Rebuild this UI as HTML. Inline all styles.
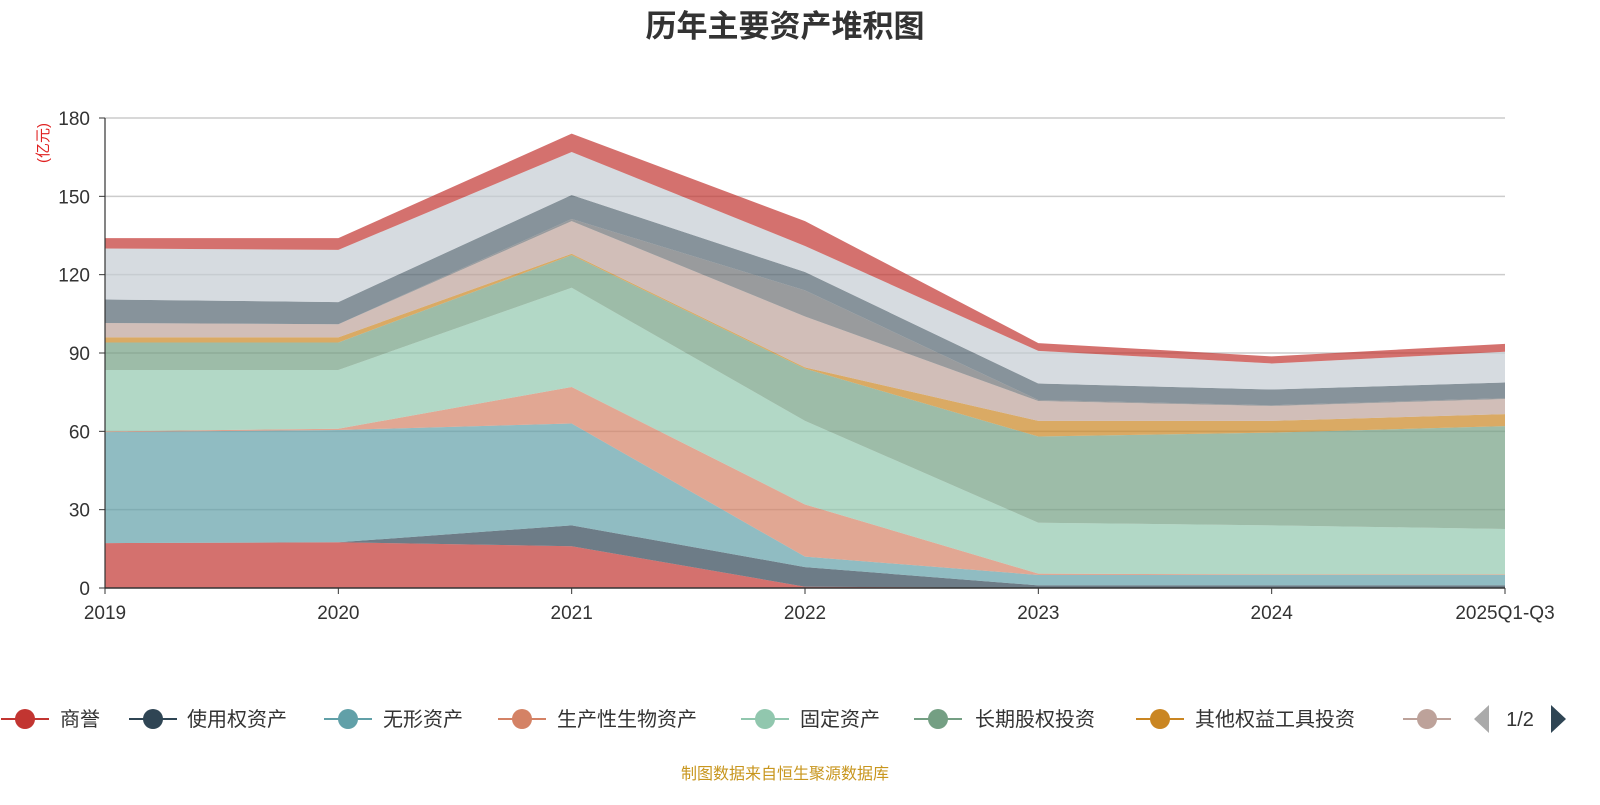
<!DOCTYPE html>
<html><head><meta charset="utf-8">
<style>
body{margin:0;background:#fff;width:1600px;height:800px;overflow:hidden;font-family:"Liberation Sans","Noto Sans CJK SC",sans-serif;}
svg text{font-family:"Liberation Sans","Noto Sans CJK SC",sans-serif;}
</style></head>
<body>
<svg id="chart" width="1600" height="800" xmlns="http://www.w3.org/2000/svg">
<text x="785" y="37" text-anchor="middle" font-size="31" font-weight="bold" fill="#333">历年主要资产堆积图</text>
<text transform="translate(48,143) rotate(-90)" text-anchor="middle" font-size="15" fill="#e02020">(亿元)</text>
<g id="grid"></g><g id="areas"></g><g id="axes"></g><g id="legend"></g>
<text x="785" y="779" text-anchor="middle" font-size="16" fill="#c8961e">制图数据来自恒生聚源数据库</text>
</svg>
<script>
const categories=["2019","2020","2021","2022","2023","2024","2025Q1-Q3"];
const seriesNames=["商誉","使用权资产","无形资产","生产性生物资产","固定资产","长期股权投资","其他权益工具投资","其他非流动资产","在建工程","货币资金","应收账款","存货"];
const s1=[17.2,17.5,16,0.5,0,0,0];
const s2=[0,0,8,7.5,1,1,1];
const s3=[42.5,43,39,4,4,4,4];
const s4=[0.3,0.5,14,20,0.5,0.2,0.2];
const s5=[23.5,22.5,38,32,19.5,18.8,17.4];
const s6=[10.5,10.5,12.5,20,33,35.5,39.4];
const s7=[2,2,0.5,0.5,6,4.5,4.6];
const s8=[5.5,5,12.5,19.5,7.6,5.7,5.8];
const s9=[0,0,0.8,10,0.4,0.3,0.3];
const s10=[9,8.5,9.2,7,6.3,6,6];
const s11=[19.5,20,16.5,10,12.5,10,11.8];
const s12=[4,4.5,7,9.5,3,2.7,3];
const yTicks=[0,30,60,90,120,150,180];
const series=[s1,s2,s3,s4,s5,s6,s7,s8,s9,s10,s11,s12];
const colors=["#c23531","#2f4554","#61a0a8","#d48265","#91c7ae","#749f83","#ca8622","#bda29a","#6e7074","#546570","#c4ccd3","#c23531"];
const X0=105,X1=1505,Y0=588,Y1=118,YMAX=180;
const xs=i=>X0+(X1-X0)*i/(categories.length-1);
const ys=v=>Y0-(Y0-Y1)*v/YMAX;
const NS="http://www.w3.org/2000/svg";
function mk(t,a,p){const e=document.createElementNS(NS,t);for(const k in a)e.setAttribute(k,a[k]);p.appendChild(e);return e;}
const grid=document.getElementById('grid'),areas=document.getElementById('areas'),axes=document.getElementById('axes'),leg=document.getElementById('legend');
yTicks.forEach(t=>{
  if(t>0){const l=mk('line',{x1:X0,x2:X1,y1:ys(t),y2:ys(t),stroke:'#ccc','stroke-width':1.5},grid);
  
  }
  const tx=mk('text',{x:X0-15,y:ys(t)+7,'text-anchor':'end','font-size':19,fill:'#333'},axes);tx.textContent=t;
  
  
  mk('line',{x1:X0-6,x2:X0,y1:ys(t),y2:ys(t),stroke:'#333'},axes);
});
mk('line',{x1:X0,x2:X0,y1:Y1,y2:Y0,stroke:'#333','stroke-width':1.2},axes);
mk('line',{x1:X0,x2:X1,y1:Y0,y2:Y0,stroke:'#333','stroke-width':1.5},axes);
categories.forEach((c,i)=>{
  mk('line',{x1:xs(i),x2:xs(i),y1:Y0,y2:Y0+6,stroke:'#333'},axes);
  const tx=mk('text',{x:xs(i),y:Y0+31,'text-anchor':'middle','font-size':19,fill:'#333'},axes);tx.textContent=c;
  
  
});
let base=categories.map(()=>0);
series.forEach((s,k)=>{
  const top=base.map((b,i)=>b+s[i]);
  let d='M'+top.map((v,i)=>xs(i)+','+ys(v)).join('L');
  for(let i=categories.length-1;i>=0;i--)d+='L'+xs(i)+','+ys(base[i]);
  const p=mk('path',{d:d+'Z',fill:colors[k],'fill-opacity':0.7},areas);
  
  
  base=top;
});
const icx=[25,153,348,522,765,938,1160,1427],tx0=[60,187,383,557,800,975,1195];
for(let k=0;k<8;k++){
  const g=mk('g',{},leg);
  
  
  mk('line',{x1:icx[k]-24,x2:icx[k]+24,y1:719,y2:719,stroke:colors[k],'stroke-width':2},g);
  mk('circle',{cx:icx[k],cy:719,r:10,fill:colors[k]},g);
  if(k<7){const t=mk('text',{x:tx0[k],y:726,'font-size':20,fill:'#333'},g);t.textContent=seriesNames[k];}
}
const pl=mk('path',{d:'M1489,705 L1474,719 L1489,733Z',fill:'#aaa'},leg);


const pt=mk('text',{x:1520,y:726,'text-anchor':'middle','font-size':20,fill:'#333'},leg);pt.textContent='1/2';


const pn=mk('path',{d:'M1551,705 L1566,719 L1551,733Z',fill:'#2f4554'},leg);


</script>
</body></html>
